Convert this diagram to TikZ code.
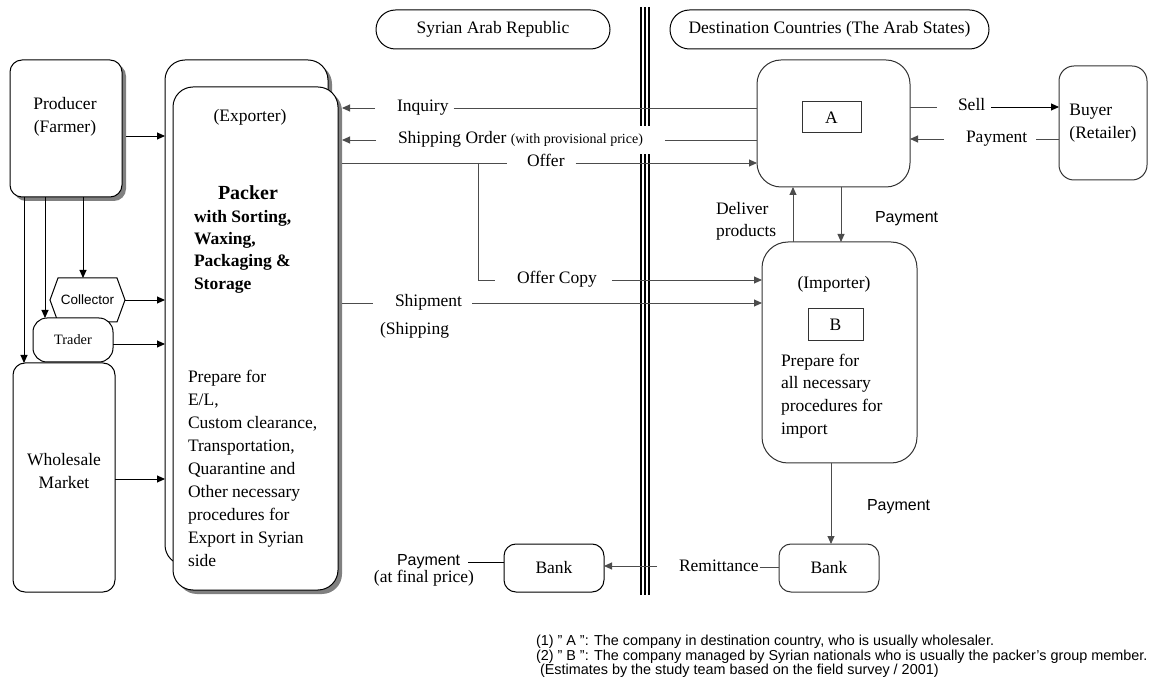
\documentclass[tikz,border=0pt]{standalone}
\usepackage{fontspec}
\setmainfont{Liberation Serif}
\setsansfont{Liberation Sans}
\usetikzlibrary{arrows.meta,shadows,shapes.symbols}
\begin{document}
\begin{tikzpicture}[x=1pt,y=-1pt,
  every node/.style={inner sep=0pt, outer sep=0pt, font=\fontsize{17.5}{23}\selectfont},
  box/.style={draw=black, line width=1pt, fill=white, rounded corners=#1},
  box/.default=12pt,
  shade/.style={drop shadow={shadow xshift=4pt, shadow yshift=-4pt, fill=black!50, opacity=1}},
  tag/.style={draw=black!80, line width=1pt, fill=white, minimum width=#1, minimum height=31pt},
  lbl/.style={anchor=west, text height=12pt, text depth=4pt},
  sans/.style={font=\sffamily\fontsize{16}{20}\selectfont},
  foot/.style={anchor=west, font=\sffamily\fontsize{14.4}{14.4}\selectfont},
  wire/.style={line width=0.9pt, draw=black},
  gwire/.style={line width=0.9pt, draw=black!70},
  tip/.style={-{Triangle[length=8pt,width=7pt]}}
]
\useasboundingbox (0,0) rectangle (1149,684);

% ---- header pills
\node[box=19.5pt, minimum width=234pt, minimum height=39pt] (syr) at (493,29.5) {Syrian Arab Republic};
\node[box=19.5pt, minimum width=319pt, minimum height=39pt] (dst) at (829.5,29.5) {Destination Countries (The Arab States)};

% ---- Syrian side: suppliers
\node[box=12pt, shade, minimum width=112pt, minimum height=137pt] (prod) at (66,128.5) {};
\node[align=center] (prodtxt) at (65,117) {Producer\\(Farmer)};

\node[draw=black, line width=1pt, fill=white, signal, signal to=west and east,
      signal pointer angle=140, minimum width=75pt, minimum height=44pt,
      font=\sffamily\fontsize{13.5}{14}\selectfont] (col) at (87.5,300) {Collector};
\node[box=14pt, minimum width=80pt, minimum height=44pt, font=\fontsize{14.3}{15}\selectfont] (trd) at (73,340) {Trader};
\node[box=12pt, minimum width=102pt, minimum height=229pt] (whs) at (64,477.5) {};
\node[align=center] (whstxt) at (64,471.5) {Wholesale\\Market};

% ---- packer / exporter
\node[box=20pt, shade, minimum width=163pt, minimum height=505pt] (pkb) at (246.5,312.5) {};
\node[box=20pt, shade, minimum width=165pt, minimum height=503pt] (pk) at (255.5,338.5) {};
\node (exp) at (250,117) {(Exporter)};
\node[font=\bfseries\fontsize{20}{24}\selectfont] (pkname) at (248,193) {Packer};
\node[anchor=west, align=left, font=\bfseries\fontsize{17.5}{22.4}\selectfont] (pkjob) at (194,251.5)
  {with Sorting,\\Waxing,\\Packaging \&\\Storage};
\node[anchor=west, align=left, font=\fontsize{17.5}{22.9}\selectfont] (pkprep) at (188,468.5)
  {Prepare for\\E/L,\\Custom clearance,\\Transportation,\\Quarantine and\\Other necessary\\procedures for\\Export in Syrian\\side};

% ---- destination side
\node[box=24pt, draw=black!80, minimum width=153pt, minimum height=127pt] (A) at (833.5,123.5) {};
\node[tag=59pt] (Atag) at (831.5,117.5) {A};
\node[box=15pt, draw=black!80, minimum width=88pt, minimum height=114pt, align=left] (buy) at (1103,123) {Buyer\\(Retailer)};
\node[box=26pt, draw=black!80, minimum width=155pt, minimum height=221pt] (imp) at (839.5,352.5) {};
\node (imptxt) at (834,284) {(Importer)};
\node[tag=55pt, minimum height=32pt] (Btag) at (835.5,325) {B};
\node[anchor=west, align=left, font=\fontsize{17.5}{22.7}\selectfont] (impprep) at (781,396)
  {Prepare for\\all necessary\\procedures for\\import};

% ---- banks
\node[box=12pt, minimum width=100pt, minimum height=48pt] (lbk) at (554,568) {Bank};
\node[box=12pt, draw=black!80, minimum width=100pt, minimum height=48pt] (rbk) at (829,568) {Bank};

% ---- border between the two sides
\foreach \x in {641,645,649} \draw[line width=1.6pt] (\x,7) -- (\x,595);

% ---- inputs to the packer
\coordinate (prodR) at ([xshift=4pt]prod.east);
\draw[wire,tip] (prodR |- 0,136) -- (pkb.west |- 0,136);
\draw[wire,tip] (col.east) -- (pkb.west |- col.east);
\draw[wire,tip] (trd.east |- 0,344) -- (pkb.west |- 0,344);
\draw[wire,tip] (whs.east |- 0,479) -- (pkb.west |- 0,479);
\draw[wire,tip] (prod.south -| 24,0) -- (whs.north -| 24,0);
\draw[wire,tip] (prod.south -| 45,0) -- (trd.north -| 45,0);
\draw[wire,tip] (prod.south -| 83,0) -- (col.north -| 83,0);

% ---- packer <-> destination flows
\coordinate (pkR) at ([xshift=4pt]pk.east);
\node[lbl] (inq) at (397,108) {Inquiry};
\draw[gwire,tip] ([xshift=-22pt]inq.west) -- (pkR |- inq.west);
\draw[gwire] ([xshift=5pt]inq.east) -- (A.west |- inq.east);

\node[lbl, fill=white, inner xsep=8pt, inner ysep=6pt] (sho) at (390,140)
  {Shipping Order {\fontsize{14}{14}\selectfont(with provisional price)}};
\draw[gwire,tip] ([xshift=-14pt]sho.west) -- (pkR |- sho.west);
\draw[gwire] ([xshift=14pt]sho.east) -- (A.west |- sho.east);

\node[lbl] (off) at (527,163) {Offer};
\draw[gwire] (pkR |- off.west) -- ([xshift=-20pt]off.west);
\draw[gwire,tip] ([xshift=11pt]off.east) -- (A.west |- off.east);
\coordinate (fork) at (478,163);
\node[lbl] (ofc) at (517,280) {Offer Copy};
\draw[gwire] (fork) |- ([xshift=-22pt]ofc.west);
\draw[gwire,tip] ([xshift=15pt]ofc.east) -- (imp.west |- ofc.east);

\node[lbl] (shp) at (395,303) {Shipment};
\draw[gwire] (pkR |- shp.west) -- ([xshift=-22pt]shp.west);
\draw[gwire,tip] ([xshift=10pt]shp.east) -- (imp.west |- shp.east);
\node[anchor=west] (shpg) at (380,330) {(Shipping};

% ---- wholesaler <-> retailer
\node[lbl] (sell) at (958,107) {Sell};
\draw[gwire] (A.east |- sell.west) -- ([xshift=-21pt]sell.west);
\draw[wire,tip] ([xshift=6pt]sell.east) -- (buy.west |- sell.east);
\node[lbl] (bpay) at (966,139) {Payment};
\draw[gwire] (buy.west |- bpay.east) -- ([xshift=9pt]bpay.east);
\draw[gwire,tip] ([xshift=-22pt]bpay.west) -- (A.east |- bpay.west);

% ---- wholesaler <-> importer
\draw[gwire,tip] (imp.north -| 793,0) -- (A.south -| 793,0);
\draw[gwire,tip] (A.south -| 841,0) -- (imp.north -| 841,0);
\node[anchor=west, align=left, font=\fontsize{17.5}{22}\selectfont] (dlv) at (716,221) {Deliver\\products};
\node[anchor=west, sans] (ipay) at (875,219) {Payment};

% ---- payment route back
\draw[gwire,tip] (imp.south -| 831,0) -- (rbk.north -| 831,0);
\node[anchor=west, sans] (rpay) at (867,507) {Payment};
\node[lbl] (rem) at (679,567) {Remittance};
\draw[gwire] ([xshift=1pt]rem.east) -- (rbk.west |- rem.east);
\coordinate (remit) at (657,566);
\draw[gwire,tip] (remit) -- (lbk.east |- remit);
\node[anchor=west, sans] (lpay) at (397,562) {Payment};
\draw[wire] ([xshift=8pt]lpay.east) -- (lbk.west |- lpay.east);
\node[anchor=east] (fin) at (474,578) {(at final price)};

% ---- notes
\node[foot] (fn1) at (536,642) {(1) " A ": The company in destination country, who is usually wholesaler.};
\node[foot] (fn2) at (536,657) {(2) " B ": The company managed by Syrian nationals who is usually the packer's group member.};
\node[foot] (fn3) at (540,671) {(Estimates by the study team based on the field survey / 2001)};
\end{tikzpicture}
\end{document}
